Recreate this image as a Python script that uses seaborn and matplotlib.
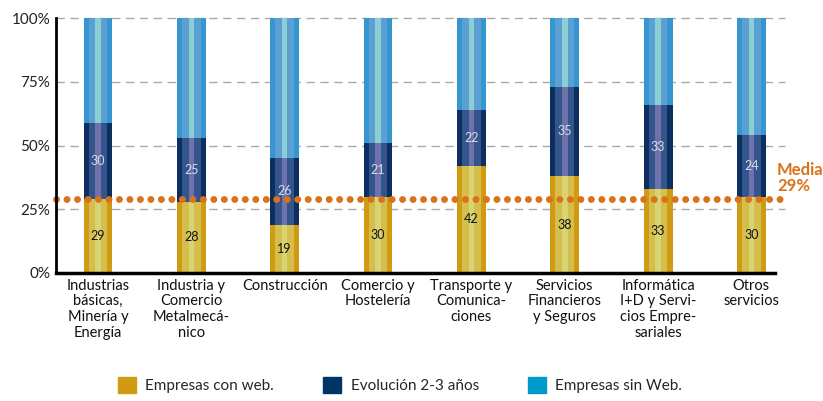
import matplotlib
matplotlib.use("Agg")
import matplotlib.pyplot as plt
import seaborn as sns
import numpy as np
from matplotlib.patches import Patch

categorias = [
    "Industrias\nbásicas,\nMinería y\nEnergía",
    "Industria y\nComercio\nMetalmecá-\nnico",
    "Construcción",
    "Comercio y\nHostelería",
    "Transporte y\nComunica-\nciones",
    "Servicios\nFinancieros\ny Seguros",
    "Informática\nI+D y Servi-\ncios Empre-\nsariales",
    "Otros\nservicios",
]
con_web = [29, 28, 19, 30, 42, 38, 33, 30]
evolucion = [30, 25, 26, 21, 22, 35, 33, 24]
total = [100] * 8
media = 29

sns.set_theme(style="white")
plt.rcParams["font.family"] = ["Lato", "DejaVu Sans"]

fig = plt.figure(figsize=(8.23, 4.01), dpi=100)
ax = fig.add_axes([56 / 823, 1 - 273 / 401, (785 - 56) / 823, (273 - 18) / 401])

acum = [a + b for a, b in zip(con_web, evolucion)]

# capas de atrás hacia delante, cada una con franjas para el brillo
capas = [
    (total, ["#3597cf", "#5b9fd4", "#8ccfd0"]),
    (acum, ["#0c2f60", "#34548c", "#6f72aa"]),
    (con_web, ["#d09a12", "#d6be4c", "#d8d474"]),
]
anchos = [0.31, 0.2, 0.06]
for valores, colores in capas:
    for w, c in zip(anchos, colores):
        sns.barplot(x=categorias, y=valores, color=c, width=w, saturation=1,
                    ax=ax, linewidth=0)

for i, (a, b) in enumerate(zip(con_web, evolucion)):
    ax.text(i, a / 2, str(a), ha="center", va="center", fontsize=9, color="#111111")
    ax.text(i, a + b / 2, str(b), ha="center", va="center", fontsize=9, color="#d8dce8")

ax.set_ylim(0, 100)
ax.set_xlim(-0.45, 7.36)
ax.set_yticks([0, 25, 50, 75, 100])
ax.set_yticklabels(["0%", "25%", "50%", "75%", "100%"], fontsize=11, color="#222222")
for y in [25, 50, 75, 100]:
    ax.axhline(y, color="#aaaaaa", lw=1, ls=(0, (6, 4)), zorder=0.5, clip_on=False)

ax.axhline(media, color="#d9731a", lw=5, ls=(0, (0.01, 1.5)),
           solid_capstyle="round", dash_capstyle="round", zorder=5, xmax=1.003,
           clip_on=False)
fig.text(777 / 823, 1 - 178 / 401, "Media\n29%", color="#d9731a",
         fontsize=12, fontweight="bold", ha="left", va="center", linespacing=1.0)

ax.tick_params(axis="x", labelsize=10.5, colors="#111111", length=0, pad=4)
ax.tick_params(axis="y", length=0, pad=4)
for lbl in ax.get_xticklabels():
    lbl.set_linespacing(1.15)
ax.set_xlabel("")
ax.set_ylabel("")
for s in ["top", "right"]:
    ax.spines[s].set_visible(False)
ax.spines["left"].set_color("black")
ax.spines["left"].set_linewidth(2)
ax.spines["bottom"].set_color("black")
ax.spines["bottom"].set_linewidth(2.5)
ax.spines["bottom"].set_bounds(-0.45, 7.25)
ax.spines["left"].set_zorder(6)
ax.spines["bottom"].set_zorder(6)

handles = [
    Patch(color="#d09a12", label="Empresas con web."),
    Patch(color="#003366", label="Evolución 2-3 años"),
    Patch(color="#0099cc", label="Empresas sin Web."),
]
fig.legend(handles=handles, loc="center", bbox_to_anchor=(400 / 823, 1 - 385 / 401),
           ncol=3, frameon=False, fontsize=11, handlelength=1.2, handleheight=1.2,
           columnspacing=3.2, handletextpad=0.6)

fig.savefig("out.png", dpi=100)
